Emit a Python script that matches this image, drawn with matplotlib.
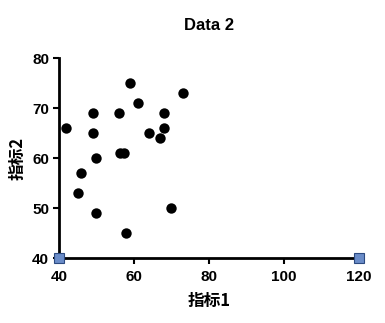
import matplotlib
matplotlib.use("Agg")
import matplotlib.pyplot as plt

x_vals = [42, 49, 49, 50, 46, 45, 50, 56, 56.3, 57.3, 59, 61, 58, 64, 67, 68, 68, 73, 70]
y_vals = [66, 69, 65, 60, 57, 53, 49, 69, 61, 61, 75, 71, 45, 65, 64, 69, 66, 73, 50]
corner_x = [40, 120]
corner_y = [40, 40]
x_ticks = [40, 60, 80, 100, 120]
y_ticks = [40, 50, 60, 70, 80]

plt.rcParams['font.family'] = ['Liberation Sans', 'Noto Sans CJK SC', 'DejaVu Sans']

fig = plt.figure(figsize=(3.85, 3.23), dpi=100)
ax = fig.add_axes([0.153, 0.201, 0.779, 0.619])

ax.scatter(x_vals, y_vals, s=56, color='black', zorder=3, linewidths=0)
ax.plot(corner_x, corner_y, linestyle='none', marker='s', markersize=6.5,
        markerfacecolor='#6a8cc8', markeredgecolor='#2c4a80', markeredgewidth=0.8,
        clip_on=False, zorder=4)

ax.set_xlim(40, 120)
ax.set_ylim(40, 80)
ax.set_xticks(x_ticks)
ax.set_yticks(y_ticks)
for s in ['top', 'right']:
    ax.spines[s].set_visible(False)
for s in ['left', 'bottom']:
    ax.spines[s].set_linewidth(2)
ax.tick_params(width=1.5, length=4.5, labelsize=11)
ax.tick_params(axis='x', pad=4)
ax.tick_params(axis='y', pad=2.5)
for lab in ax.get_xticklabels() + ax.get_yticklabels():
    lab.set_fontweight('bold')

ax.set_xlabel('指标1', fontsize=12, fontweight='bold',
              family=['Noto Sans CJK SC', 'Liberation Sans'], labelpad=6)
ax.set_ylabel('指标2', fontsize=12, fontweight='bold',
              family=['Noto Sans CJK SC', 'Liberation Sans'], labelpad=4)
ax.set_title('Data 2', fontsize=12, fontweight='bold', pad=20)

fig.savefig('out.png', dpi=100)
